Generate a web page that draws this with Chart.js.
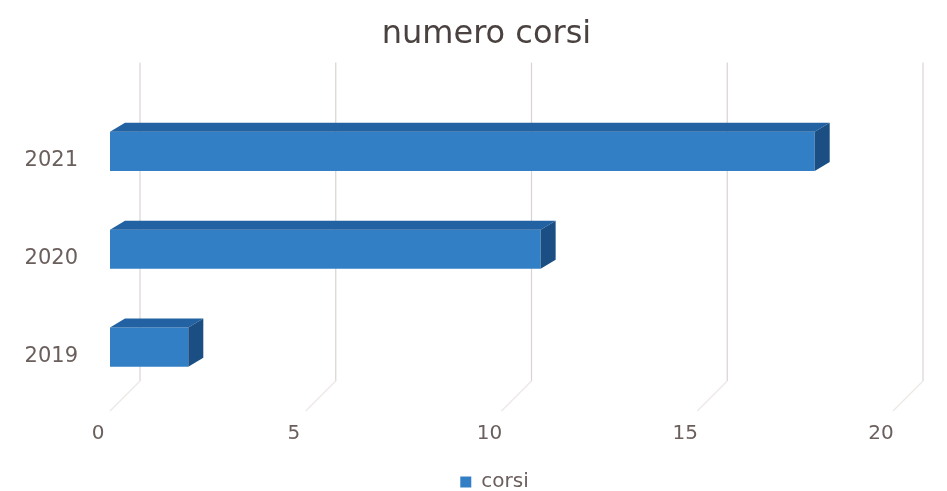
<!DOCTYPE html>
<html>
<head>
<meta charset="utf-8">
<script src="https://cdn.jsdelivr.net/npm/chart.js@4.4.0/dist/chart.umd.min.js"></script>
<style>
html,body{margin:0;padding:0;background:#fff;}
#wrap{width:947px;height:491px;position:relative;}
</style>
</head>
<body>
<div id="wrap"><canvas id="c" width="947" height="491"></canvas></div>
<script>
const categories = ['2021', '2020', '2019'];
const corsi = [18, 11, 2];
const seriesName = 'corsi';
const titleText = 'numero corsi';
const xTicks = [0, 5, 10, 15, 20];

const FRONT = '#327fc5';
const TOP = '#2262a2';
const SIDE = '#1b4f83';
const TEXT = '#6a5f5c';
const FONT = "'DejaVu Sans', 'Open Sans', sans-serif";

const shiftBoxes = {
  id: 'shiftBoxes',
  afterLayout(chart) {
    if (chart.titleBlock) { chart.titleBlock.left += 30; chart.titleBlock.right += 30; }
    if (chart.legend) { chart.legend.left += 38; chart.legend.right += 38; }
  }
};

const wall3d = {
  id: 'wall3d',
  beforeDatasetsDraw(chart) {
    const {ctx, chartArea, scales} = chart;
    const x = scales.x;
    const dx = 30, dy = 30;
    ctx.save();
    ctx.lineWidth = 1.2;
    xTicks.forEach(v => {
      const px = x.getPixelForValue(v);
      ctx.strokeStyle = '#d9d4d2';
      ctx.beginPath();
      ctx.moveTo(px + dx, chartArea.top - 40);
      ctx.lineTo(px + dx, chartArea.bottom - 15);
      ctx.stroke();
      ctx.strokeStyle = '#ece8e6';
      ctx.beginPath();
      ctx.moveTo(px + dx, chartArea.bottom - 15);
      ctx.lineTo(px, chartArea.bottom + dy - 15);
      ctx.stroke();
    });
    ctx.restore();
  }
};

const bar3d = {
  id: 'bar3d',
  afterDatasetsDraw(chart) {
    const {ctx} = chart;
    const dx = 15, dy = 9;
    chart.getDatasetMeta(0).data.forEach(el => {
      const top = el.y - el.height / 2;
      const bot = el.y + el.height / 2;
      const b = el.base, e = el.x;
      ctx.save();
      ctx.fillStyle = TOP;
      ctx.beginPath();
      ctx.moveTo(b, top);
      ctx.lineTo(b + dx, top - dy);
      ctx.lineTo(e + dx, top - dy);
      ctx.lineTo(e, top);
      ctx.closePath();
      ctx.fill();
      ctx.fillStyle = SIDE;
      ctx.beginPath();
      ctx.moveTo(e, top);
      ctx.lineTo(e + dx, top - dy);
      ctx.lineTo(e + dx, bot - dy);
      ctx.lineTo(e, bot);
      ctx.closePath();
      ctx.fill();
      ctx.restore();
    });
  }
};

new Chart(document.getElementById('c'), {
  type: 'bar',
  data: {
    labels: categories,
    datasets: [{
      label: seriesName,
      data: corsi,
      backgroundColor: FRONT,
      borderWidth: 0,
      categoryPercentage: 0.8,
      barPercentage: 0.5
    }]
  },
  options: {
    indexAxis: 'y',
    responsive: false,
    animation: false,
    layout: {padding: {left: 20, right: 54, top: 0, bottom: -11}},
    scales: {
      x: {
        min: 0, max: 20,
        ticks: {stepSize: 5, color: TEXT, font: {family: FONT, size: 20}, padding: 26, labelOffset: -12},
        grid: {display: false, drawTicks: false},
        border: {display: false}
      },
      y: {
        afterFit(s) { s.width = 90; },
        ticks: {color: TEXT, font: {family: FONT, size: 21}, padding: 32, labelOffset: 9},
        grid: {display: false, drawTicks: false},
        border: {display: false}
      }
    },
    plugins: {
      title: {
        display: true,
        text: titleText,
        color: '#4a4240',
        font: {family: FONT, size: 32, weight: 'normal'},
        padding: {top: 15, bottom: 49}
      },
      legend: {
        position: 'bottom',
        labels: {
          color: TEXT,
          font: {family: FONT, size: 20},
          boxWidth: 11, boxHeight: 11,
          padding: 0
        }
      },
      tooltip: {enabled: false}
    }
  },
  plugins: [shiftBoxes, wall3d, bar3d]
});
</script>
</body>
</html>
